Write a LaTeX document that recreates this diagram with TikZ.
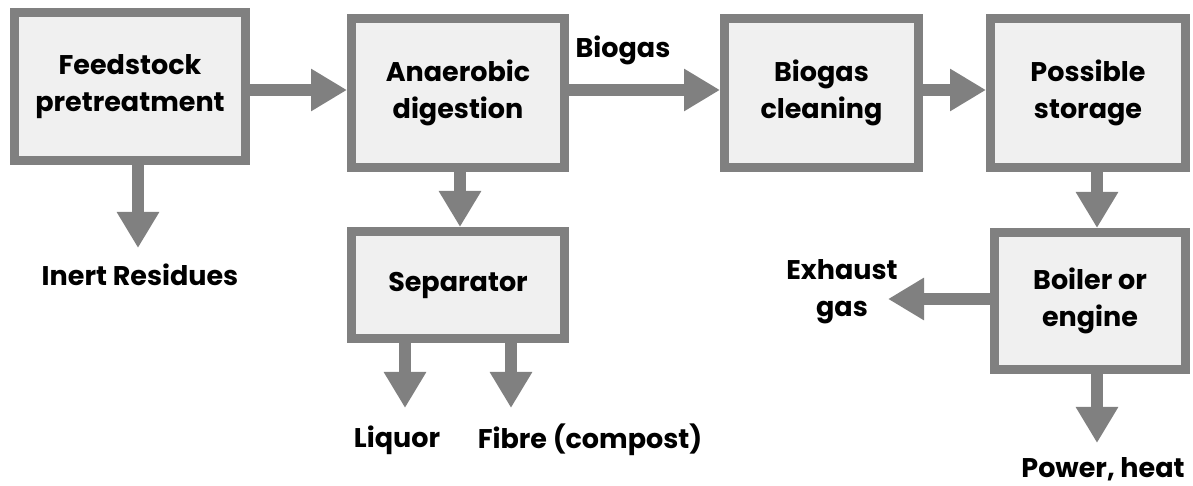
\documentclass[tikz,border=0pt]{standalone}
\usepackage{fontspec}
\setmainfont{Poppins}
\usetikzlibrary{arrows.meta}
\definecolor{edgegray}{HTML}{808080}
\definecolor{panel}{HTML}{F0F0F0}
\newcommand\flowfont{\fontsize{27}{37}\selectfont\bfseries}
\begin{document}
\begin{tikzpicture}[x=1pt,y=1pt,
  box/.style={draw=edgegray, line width=9pt, fill=panel, align=center,
              inner sep=0pt, font=\flowfont},
  lbl/.style={align=center, inner sep=0pt, font=\flowfont},
  flow/.style={draw=edgegray, line width=12pt,
               -{Triangle[length=36pt,width=40pt]}},
]
\useasboundingbox (0,0) rectangle (1193,486);

% process boxes
\node[box, minimum width=231pt, minimum height=148pt] (feed)  at (130,399.5) {Feedstock\\pretreatment};
\node[box, minimum width=213pt, minimum height=149pt] (anaer) at (458,393)   {Anaerobic\\digestion};
\node[box, minimum width=194pt, minimum height=149pt] (clean) at (821.5,393) {Biogas\\cleaning};
\node[box, minimum width=195pt, minimum height=149pt] (store) at (1088,393)  {Possible\\storage};
\node[box, minimum width=213pt, minimum height=107pt] (sep)   at (458,201)   {Separator};
\node[box, minimum width=191pt, minimum height=137pt] (boiler) at (1090,185) {Boiler or\\engine};

% output labels
\node[lbl] (inert)   at (140,211) {Inert Residues};
\node[lbl] (biogas)  at (623,436) {Biogas};
\node[lbl] (liquor)  at (397,46)  {Liquor};
\node[lbl] (fibre)   at (590,46)  {Fibre (compost)};
\node[lbl] (exhaust) at (842,194) {Exhaust\\gas};
\node[lbl] (power)   at (1103,17) {Power, heat};

% guide positions for the flows
\coordinate (row)   at (0,396);
\coordinate (colR)  at (1097,0);
\coordinate (colI)  at (138,0);
\coordinate (colS)  at (460,0);
\coordinate (inertTip)   at (138,238);
\coordinate (liquorTip)  at (405,78);
\coordinate (fibreTip)   at (511,78);
\coordinate (exhaustTip) at (888,187);
\coordinate (powerTip)   at (1097,43);

% main gas line
\draw[flow] (feed.east |- row)  -- (anaer.west |- row);
\draw[flow] (anaer.east |- row) -- (clean.west |- row);
\draw[flow] (clean.east |- row) -- (store.west |- row);
\draw[flow] (store.south -| colR) -- (boiler.north -| colR);

% by-products
\draw[flow] (feed.south -| colI) -- (inertTip);
\draw[flow] (anaer.south -| colS) -- (sep.north -| colS);
\draw[flow] (sep.south -| liquorTip) -- (liquorTip);
\draw[flow] (sep.south -| fibreTip) -- (fibreTip);
\draw[flow] (boiler.west |- exhaustTip) -- (exhaustTip);
\draw[flow] (boiler.south -| powerTip) -- (powerTip);
\end{tikzpicture}
\end{document}
